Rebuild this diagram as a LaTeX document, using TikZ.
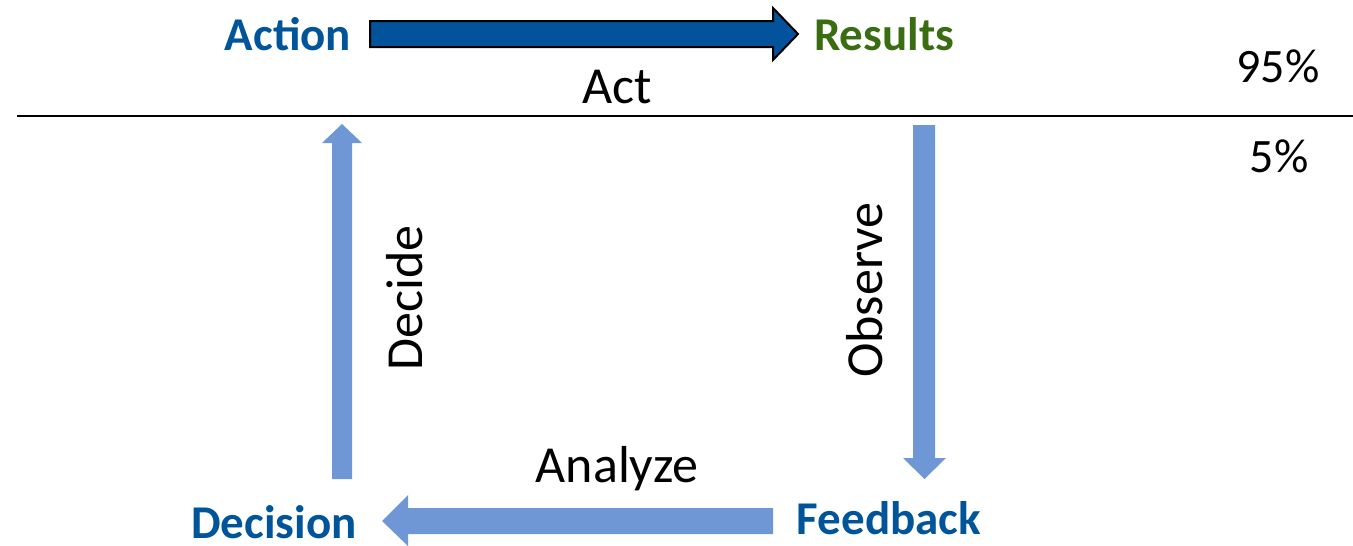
\documentclass[tikz,border=0pt]{standalone}
\usepackage{fontspec}
\setmainfont{Carlito}
\definecolor{lightarrow}{RGB}{111,151,214}
\definecolor{darkarrow}{RGB}{2,82,156}
\definecolor{txtblue}{RGB}{0,84,154}
\definecolor{txtgreen}{RGB}{58,108,18}
\begin{document}
\begin{tikzpicture}[x=1pt,y=-1pt,
  boldlabel/.style={font=\fontsize{47}{56}\selectfont\bfseries, inner sep=0pt, anchor=base},
  plainlabel/.style={font=\fontsize{52}{62}\selectfont, inner sep=0pt, anchor=base},
  pctlabel/.style={font=\fontsize{48}{58}\selectfont, inner sep=0pt, anchor=base},
  blockarrow/.style={fill=lightarrow},
  mainarrow/.style={fill=darkarrow, draw=black, line width=2pt, line join=miter}]
\useasboundingbox (0,0) rectangle (1353,546);

% divider line
\coordinate (lineL) at (17,116);
\coordinate (lineR) at (1353,116);
\draw[line width=2.6pt] (lineL) -- (lineR);

% labels
\node[boldlabel, text=txtblue] (action) at (288,50) {Action};
\node[boldlabel, text=txtgreen] (results) at (884,50) {Results};
\node[plainlabel] (act) at (617,103) {Act};
\node[pctlabel] (p95) at (1278,82) {95\%};
\node[pctlabel] (p5) at (1279,172) {5\%};
\node[boldlabel, text=txtblue] (decision) at (274,538) {Decision};
\node[boldlabel, text=txtblue] (feedback) at (889,534) {Feedback};
\node[plainlabel] (analyze) at (617,482) {Analyze};
\node[plainlabel, rotate=90, anchor=center] (decide) at (405,298) {Decide};
\node[plainlabel, rotate=90, anchor=center] (observe) at (865,290) {Observe};

% top arrow Action -> Results
\draw[mainarrow] (370,21) -- (773,21) -- (773,8) -- (798,34) -- (773,60) -- (773,47) -- (370,47) -- cycle;

% Decide arrow (up)
\fill[blockarrow] (332,479) -- (332,143) -- (322,143) -- (342,124) -- (362,143) -- (352,143) -- (352,479) -- cycle;

% Observe arrow (down)
\fill[blockarrow] (913,125) -- (935,125) -- (935,458) -- (946,458) -- (924.5,479) -- (903,458) -- (913,458) -- cycle;

% Analyze arrow (left)
\fill[blockarrow] (773,508) -- (408,508) -- (408,495) -- (382,521) -- (408,546) -- (408,534) -- (773,534) -- cycle;
\end{tikzpicture}
\end{document}
